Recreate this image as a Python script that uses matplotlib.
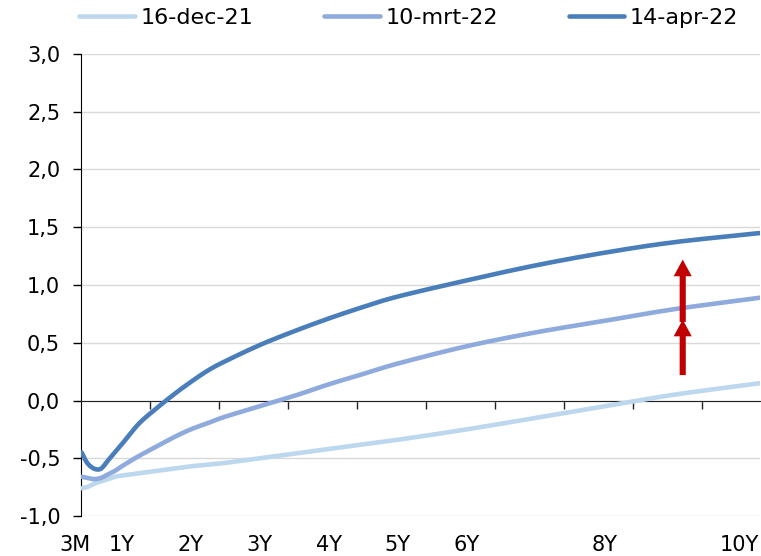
import numpy as np
import matplotlib
matplotlib.use('Agg')
import matplotlib.pyplot as plt
from matplotlib.patches import FancyArrowPatch

# maturities in years (curve starts at the left edge of the axis)
tenors = [0.42, 0.5, 0.6, 0.7, 0.8, 0.9, 1.0, 1.25, 1.5, 1.75, 2.0, 2.25, 2.5, 3.0,
          3.5, 4.0, 4.5, 5.0, 6.0, 7.0, 8.0, 9.0, 10.25]

dec21 = [-0.76, -0.75, -0.72, -0.70, -0.68, -0.66, -0.65, -0.63, -0.61, -0.59, -0.57,
         -0.555, -0.54, -0.50, -0.46, -0.42, -0.38, -0.34, -0.25, -0.15, -0.05, 0.05, 0.15]
mrt22 = [-0.66, -0.67, -0.68, -0.67, -0.64, -0.61, -0.57, -0.48, -0.40, -0.32, -0.25,
         -0.195, -0.14, -0.05, 0.04, 0.14, 0.23, 0.32, 0.47, 0.59, 0.69, 0.79, 0.89]
apr22 = [-0.45, -0.54, -0.59, -0.59, -0.52, -0.45, -0.38, -0.20, -0.07, 0.05, 0.16,
         0.26, 0.34, 0.48, 0.60, 0.71, 0.81, 0.90, 1.04, 1.17, 1.28, 1.37, 1.45]

series_names = ['16-dec-21', '10-mrt-22', '14-apr-22']
series_colors = ['#BDD7EE', '#8FAADC', '#4A7EBB']

x_labels = ['3M', '1Y', '2Y', '3Y', '4Y', '5Y', '6Y', '8Y', '10Y']
x_label_pos = [0.32, 1, 2, 3, 4, 5, 6, 8, 9.95]

y_ticks = [-1.0, -0.5, 0.0, 0.5, 1.0, 1.5, 2.0, 2.5, 3.0]
y_tick_labels = ['-1,0', '-0,5', '0,0', '0,5', '1,0', '1,5', '2,0', '2,5', '3,0']


def smooth(x, y, n=12):
    # catmull-rom through the read points, like excel's smoothed line
    x = np.asarray(x, float)
    y = np.asarray(y, float)
    px = np.concatenate([[2 * x[0] - x[1]], x, [2 * x[-1] - x[-2]]])
    py = np.concatenate([[2 * y[0] - y[1]], y, [2 * y[-1] - y[-2]]])
    t = np.linspace(0, 1, n, endpoint=False)
    xs, ys = [], []
    for i in range(1, len(px) - 2):
        for arr, out in ((px, xs), (py, ys)):
            p0, p1, p2, p3 = arr[i - 1], arr[i], arr[i + 1], arr[i + 2]
            out.extend(0.5 * (2 * p1 + (-p0 + p2) * t + (2 * p0 - 5 * p1 + 4 * p2 - p3) * t ** 2
                              + (-p0 + 3 * p1 - 3 * p2 + p3) * t ** 3))
    xs.append(x[-1])
    ys.append(y[-1])
    return xs, ys


fig = plt.figure(figsize=(7.61, 5.56), dpi=100)
ax = fig.add_axes([0.1064, 0.0719, 0.8923, 0.8310])

for vals, name, col in zip([dec21, mrt22, apr22], series_names, series_colors):
    sx, sy = smooth(tenors, vals)
    ax.plot(sx, sy, color=col, lw=3.3, label=name,
            solid_capstyle='round', solid_joinstyle='round', zorder=3)

# red arrows showing the shift
arrow_x = 9.13
for y0, y1 in [(0.22, 0.70), (0.68, 1.22)]:
    ar = FancyArrowPatch((arrow_x, y0), (arrow_x, y1),
                         arrowstyle='simple,head_width=13,head_length=12,tail_width=4.4',
                         mutation_scale=1, color='#C00000', lw=0,
                         shrinkA=0, shrinkB=0, zorder=4)
    ax.add_patch(ar)

ax.set_xlim(0.41, 10.25)
ax.set_ylim(-1.0, 3.0)

# y axis
ax.set_yticks(y_ticks)
ax.set_yticklabels(y_tick_labels, fontsize=15)
ax.tick_params(axis='y', direction='out', length=6, width=1, pad=9)
ax.yaxis.grid(True, color='#D9D9D9', lw=1)
ax.set_axisbelow(True)

# x axis line sits at zero
ax.spines['bottom'].set_position(('data', 0))
ax.spines['top'].set_visible(False)
ax.spines['right'].set_visible(False)
ax.spines['left'].set_color('black')
ax.spines['bottom'].set_color('#222222')
ax.set_xticks(np.arange(1, 10) + 0.41)
ax.set_xticklabels([])
ax.tick_params(axis='x', direction='out', length=6, width=1, color='#222222')

for lab, pos in zip(x_labels, x_label_pos):
    ax.text(pos, -0.063, lab, transform=ax.get_xaxis_transform(),
            ha='center', va='center', fontsize=15, clip_on=False)

leg = fig.legend(loc='center', bbox_to_anchor=(0.537, 0.968), ncol=3,
                 frameon=False, fontsize=16, handlelength=2.5,
                 handletextpad=0.25, columnspacing=3.2, borderpad=0)

fig.savefig('out.png', dpi=100)
